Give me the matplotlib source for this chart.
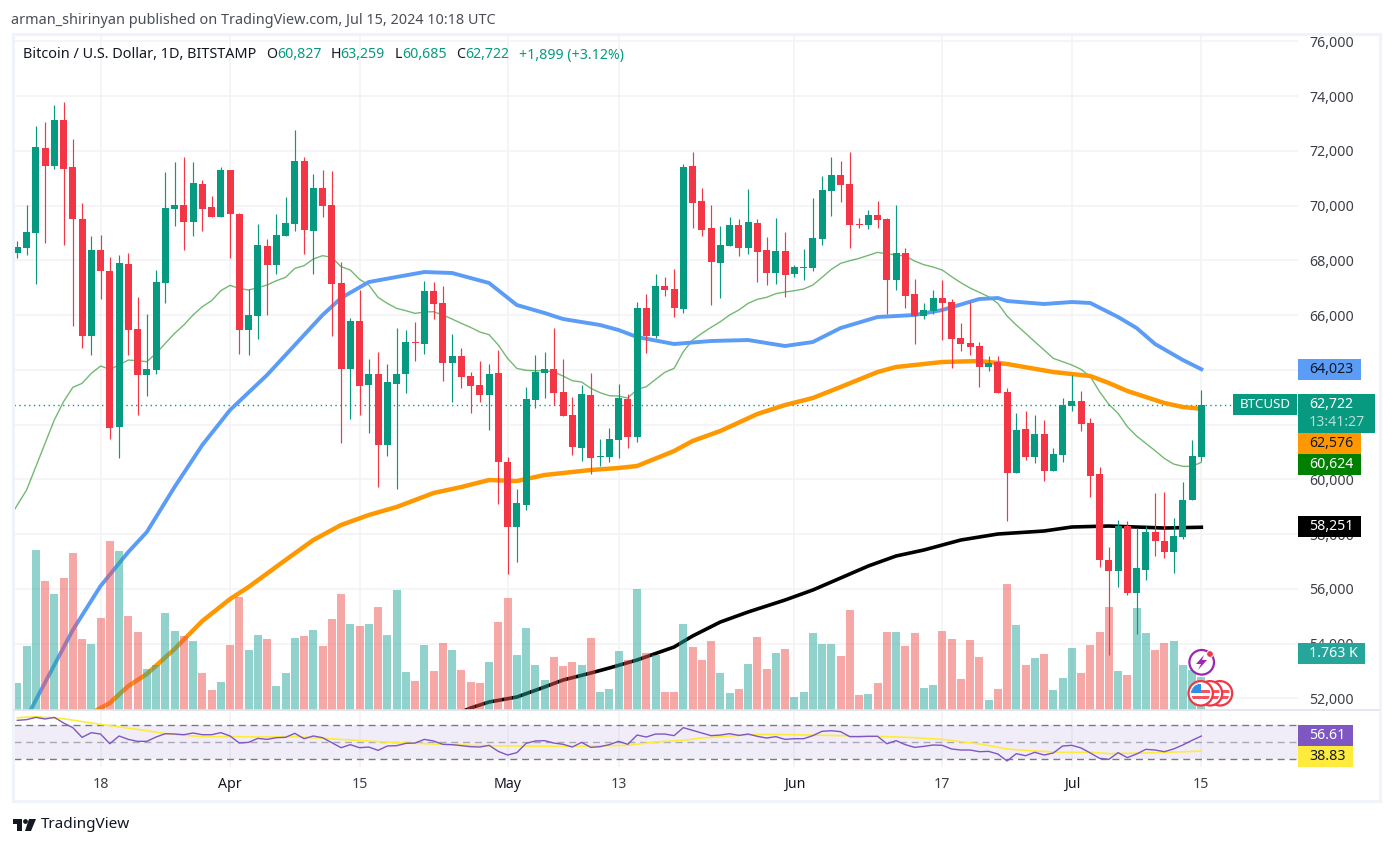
import matplotlib
matplotlib.use("Agg")
import matplotlib.pyplot as plt
from matplotlib.patches import Rectangle, Circle, Polygon

plt.rcParams["font.family"] = ["Noto Sans", "DejaVu Sans"]

# daily candles, 2024-03-09 to 2024-07-15, day number = position in the list
opens = [68266, 68448, 68996, 72101, 71443, 73123, 71407, 69508, 65235, 68376,
         67608, 61911, 67864, 65490, 63810, 63993, 67170, 69873, 70019, 69398,
         70786, 69946, 69581, 71297, 69690, 65454, 65965, 68522, 67828, 68887,
         69325, 71626, 69069, 70640, 70019, 67170, 64029, 65783, 63445, 63847,
         61254, 63482, 63847, 65015, 64942, 66878, 66440, 64248, 64504, 63774,
         63445, 63080, 63883, 60633, 58259, 59062, 62897, 63883, 64029, 63189,
         62349, 61144, 63080, 60815, 60815, 61436, 62934, 61546, 66257, 65235,
         67061, 66951, 66221, 71443, 70165, 69179, 67901, 68522, 69289, 68448,
         69362, 68376, 67535, 68339, 67499, 67718, 67718, 68777, 70530, 71115,
         70786, 69325, 69289, 69654, 69508, 67280, 68266, 66768, 65965, 66148,
         66622, 66476, 65162, 64979, 64869, 64102, 64285, 63189, 60230, 61838,
         60815, 61655, 60304, 60888, 62678, 62861, 62057, 60195, 57054, 56652,
         58295, 55848, 56689, 58076, 57748, 57346, 57894, 59245, 60827]
highs = [68704, 70019, 72904, 73050, 73671, 73781, 72429, 70092, 68887, 68923,
         68120, 68193, 68266, 66659, 66038, 67645, 71224, 71589, 71772, 71589,
         70932, 70348, 71407, 71297, 69727, 66951, 69325, 68777, 69690, 70311,
         72758, 71772, 71151, 71297, 71261, 67937, 65892, 66915, 64395, 64650,
         64212, 65527, 65454, 65746, 67243, 67207, 67061, 65308, 64796, 63920,
         64321, 64212, 64723, 60815, 59647, 63372, 64541, 64650, 65527, 64395,
         63007, 63445, 63883, 61473, 61874, 63482, 63116, 66476, 66768, 67499,
         67389, 67681, 71516, 71954, 70640, 70019, 69252, 69581, 69508, 70603,
         69508, 68850, 69544, 69033, 67828, 68412, 70275, 71078, 71772, 71626,
         71954, 69544, 69836, 70165, 69544, 70019, 68448, 67316, 66440, 66915,
         67280, 66586, 65710, 66476, 65015, 64504, 64504, 63335, 62422, 62495,
         62349, 62167, 61144, 62970, 63810, 63226, 62240, 60450, 57528, 58514,
         58478, 58222, 58295, 59500, 59537, 58588, 59902, 61436, 63259]
lows = [68095, 68193, 67134, 68631, 71334, 68558, 65600, 64796, 64541, 66586,
        61473, 60779, 64541, 62349, 63043, 63847, 66440, 69252, 68376, 68887,
        69069, 69581, 69581, 68083, 64577, 64541, 65125, 66001, 67499, 68887,
        69069, 68229, 67499, 69581, 65235, 61327, 62203, 62349, 61692, 59720,
        60852, 59647, 63153, 64321, 64577, 65855, 63591, 62824, 63335, 62422,
        62824, 61801, 59099, 56542, 56981, 58880, 62605, 62970, 62715, 62313,
        60888, 60669, 60195, 60487, 60633, 60779, 61144, 61363, 64613, 65162,
        66695, 65929, 66075, 69179, 68887, 66367, 66622, 68522, 68156, 68229,
        67207, 67097, 67134, 66659, 67389, 67280, 67608, 68558, 69617, 70129,
        68448, 69179, 69143, 69179, 66038, 66914, 66257, 64942, 65855, 66038,
        65088, 64065, 64687, 64541, 63372, 63956, 63153, 58478, 60230, 60706,
        60596, 59939, 60304, 60633, 62495, 61765, 59355, 56798, 53584, 56068,
        55775, 54351, 56323, 57200, 57127, 56579, 57821, 59245, 60685]
closes = [68485, 69033, 72137, 71443, 73123, 71334, 69508, 65235, 68376, 67608,
          61874, 67901, 65454, 63810, 64029, 67207, 69909, 70019, 69398, 70822,
          69873, 69581, 71297, 69690, 65454, 66001, 68558, 67828, 68923, 69362,
          71626, 69106, 70640, 69983, 67134, 64029, 65783, 63409, 63847, 61254,
          63555, 63847, 65015, 64979, 66878, 66403, 64248, 64504, 63737, 63409,
          63080, 63847, 60633, 58259, 59136, 62934, 63920, 64029, 63153, 62313,
          61181, 63116, 60779, 60852, 61473, 62970, 61546, 66257, 65235, 67061,
          66915, 66257, 71407, 70092, 69106, 67937, 68558, 69289, 68448, 69398,
          68303, 67535, 68339, 67462, 67754, 67754, 68814, 70567, 71115, 70749,
          69289, 69289, 69654, 69471, 67280, 68266, 66695, 65965, 66184, 66622,
          66440, 65125, 64942, 64833, 64102, 64248, 63153, 60230, 61801, 60815,
          61655, 60304, 60925, 62715, 62861, 62021, 60122, 57054, 56652, 58295,
          55848, 56762, 58076, 57748, 57346, 57930, 59245, 60852, 62722]
volumes = [1428, 3385, 8462, 6823, 6135, 6981, 8304, 3755, 3491, 4866,
           8938, 8410, 4972, 4125, 2168, 2380, 5130, 4178, 3914, 3649,
           1957, 1058, 1481, 3438, 5977, 3173, 3967, 3755, 1269, 1957,
           3808, 3914, 4231, 3385, 4813, 6135, 4549, 4443, 4549, 5448,
           3967, 6347, 2010, 1534, 3438, 2063, 3544, 3173, 2116, 1481,
           1428, 2539, 4654, 5924, 2909, 4337, 2380, 1587, 2803, 2327,
           2539, 2380, 3808, 952, 1111, 3121, 2645, 6400, 3015, 2909,
           952, 952, 4549, 3332, 2645, 3649, 1957, 899, 1111, 2433,
           3861, 2168, 3015, 3226, 688, 952, 4073, 3491, 3491, 2856,
           5289, 793, 846, 1428, 4125, 4125, 3385, 4073, 1164, 1322,
           4178, 3755, 1640, 3702, 2803, 529, 1111, 6664, 4496, 2380,
           2750, 2962, 1058, 1692, 3279, 1957, 3438, 4125, 5448, 2063,
           1851, 5395, 4073, 3173, 3544, 3649, 2380, 2116, 1763]

# thin average starts one day before the first candle
ma_thin_start = -1
ma_thin = [58516,
           59062, 59610, 60462, 61315, 62167, 62837, 63360, 63506, 63871, 64139,
           64017, 64176, 64358, 64334, 64297, 64602, 64967, 65332, 65636, 66002,
           66306, 66525, 66890, 67085, 66975, 66915, 67000, 67097, 67255, 67377,
           67706, 67803, 68047, 68169, 68108, 67767, 67645, 67304, 67097, 66647,
           66428, 66245, 66160, 66062, 66111, 66123, 66002, 65855, 65697, 65551,
           65381, 65283, 64906, 64419, 64054, 63981, 63969, 63969, 63920, 63774,
           63603, 63555, 63324, 63165, 63055, 63043, 62970, 63287, 63384, 63652,
           63908, 64054, 64662, 65088, 65332, 65551, 65758, 66002, 66184, 66428,
           66574, 66647, 66781, 66842, 66890, 66951, 67097, 67377, 67669, 67888,
           67986, 68071, 68181, 68290, 68242, 68193, 68156, 67974, 67840, 67755,
           67645, 67402, 67182, 66988, 66830, 66671, 66428, 65966, 65636, 65332,
           65028, 64723, 64419, 64297, 64176, 64017, 63749, 63201, 62739, 62410,
           61923, 61582, 61315, 61047, 60767, 60560, 60475, 60475, 60624]

blue_days = [1, 2, 6, 9, 12, 14, 17, 20, 23, 27, 30, 33, 35, 38, 41, 44, 47, 51, 54, 57,
             59, 63, 65, 67, 71, 75, 79, 83, 86, 89, 93, 97, 100, 104, 106, 107, 111,
             114, 116, 119, 121, 123, 126, 128]
blue_vals = [51285, 51940, 54498, 56105, 57347, 58077, 59721, 61255, 62533, 63811,
             64907, 66002, 66623, 67207, 67390, 67572, 67536, 67171, 66367, 66075,
             65856, 65637, 65454, 65199, 64943, 65053, 65089, 64870, 65016, 65527,
             65929, 66002, 66185, 66586, 66623, 66513, 66404, 66477, 66440, 65929,
             65527, 64943, 64359, 64023]
orange_days = [8, 9, 10, 12, 14, 17, 20, 23, 25, 29, 32, 35, 38, 41, 45, 48, 51, 54, 57, 62,
               65, 67, 71, 73, 76, 80, 83, 86, 89, 93, 95, 100, 104, 107, 112, 116, 118,
               120, 124, 126, 128]
orange_vals = [51467, 51650, 51832, 52453, 52891, 53804, 54827, 55630, 56069, 57055,
               57785, 58333, 58698, 58990, 59502, 59721, 59976, 59940, 60159, 60342,
               60415, 60488, 61035, 61401, 61766, 62387, 62715, 62971, 63373, 63920,
               64103, 64286, 64322, 64213, 63920, 63774, 63519, 63227, 62788, 62642, 62576]
black_days = [48, 49, 51, 54, 57, 59, 62, 64, 67, 71, 73, 76, 79, 83, 86, 89, 92, 95, 98,
              102, 106, 111, 114, 118, 124, 128]
black_vals = [51504, 51650, 51869, 52051, 52417, 52672, 52928, 53111, 53403, 53877,
              54279, 54790, 55156, 55594, 55959, 56397, 56836, 57201, 57420, 57785,
              58004, 58114, 58260, 58296, 58223, 58251]

rsi = [75.1, 75.9, 78.6, 76.7, 78.6, 72.0, 66.5, 55.1, 60.6, 59.0,
       47.6, 56.7, 52.7, 50.4, 50.4, 55.5, 59.4, 59.0, 58.2, 60.2,
       58.2, 58.2, 60.6, 56.7, 48.4, 49.2, 53.9, 52.7, 54.7, 55.1,
       59.8, 53.5, 56.7, 54.7, 48.8, 42.9, 46.5, 42.9, 43.7, 39.8,
       44.9, 45.3, 48.0, 48.4, 52.7, 50.8, 46.9, 46.5, 45.3, 44.1,
       43.7, 45.7, 38.6, 34.3, 37.1, 48.0, 50.8, 51.2, 48.4, 46.9,
       43.7, 49.2, 43.3, 44.1, 46.5, 50.4, 46.9, 57.8, 55.5, 59.0,
       59.0, 57.1, 66.5, 63.3, 60.2, 57.1, 57.8, 59.4, 57.4, 59.0,
       56.3, 54.3, 55.9, 52.7, 53.5, 53.5, 57.1, 62.2, 62.9, 61.8,
       55.9, 55.9, 56.3, 56.3, 47.6, 51.2, 46.5, 43.3, 44.5, 46.1,
       45.7, 41.4, 40.2, 40.2, 38.2, 38.6, 35.5, 27.3, 35.9, 33.5,
       37.5, 34.3, 36.7, 44.9, 45.7, 42.6, 36.7, 30.4, 29.2, 37.1,
       31.2, 35.5, 41.0, 40.2, 38.2, 41.4, 46.1, 51.6, 56.61]
rsi_ma_days = [0, 2, 5, 9, 14, 16, 20, 23, 27, 30, 36, 41, 45, 50, 54, 60, 66, 69, 72, 74, 78,
               80, 82, 89, 93, 97, 100, 104, 107, 110, 113, 116, 118, 122, 125, 128]
rsi_ma_vals = [78.2, 79.4, 77.0, 70.4, 62.9, 59.4, 55.9, 55.9, 55.5, 55.9, 52.0, 48.8,
               47.3, 45.3, 44.9, 44.5, 45.7, 49.6, 51.6, 54.3, 57.4, 58.6, 58.6, 57.1,
               56.3, 54.7, 52.7, 47.3, 41.4, 39.0, 37.5, 37.5, 35.9, 36.7, 37.8, 38.83]

price_ticks = list(range(52000, 78000, 2000))
# 62,000 and 64,000 sit completely behind the price tags
hidden_ticks = [62000, 64000]
date_ticks = [9, 23, 37, 53, 65, 84, 100, 114, 128]
date_labels = ["18", "Apr", "15", "May", "13", "Jun", "17", "Jul", "15"]
months = ["Apr", "May", "Jun", "Jul"]

GREEN = "#089981"
RED = "#f23645"
GRID = "#f2f3f7"
W, H = 1393, 846


def rect(left, top, right, bottom):
    return [left / W, 1 - bottom / H, (right - left) / W, (bottom - top) / H]


fig = plt.figure(figsize=(W / 100, H / 100), dpi=100, facecolor="white")
ax = fig.add_axes(rect(14, 35, 1298, 710))
ax_rsi = fig.add_axes(rect(14, 711, 1298, 767))
over = fig.add_axes([0, 0, 1, 1], zorder=10)
over.set_xlim(0, W)
over.set_ylim(H, 0)
over.axis("off")

days = list(range(len(closes)))
thin_days = list(range(ma_thin_start, len(closes)))
colors = [GREEN if c >= o else RED for o, c in zip(opens, closes)]

# main pane
ax.set_xlim(-0.357, 138.45)
ax.set_ylim(51577, 76228)
ax.grid(color=GRID, lw=1.1)
ax.set_axisbelow(True)
ax.axhline(closes[-1], color=GREEN, lw=1, ls=(0, (1, 2.5)), zorder=1)
ax.plot(thin_days, ma_thin, color="#008000", alpha=0.55, lw=1, zorder=2)
ax.plot(blue_days, blue_vals, color="#5b9cf6", lw=2.8, zorder=2)
ax.plot(orange_days, orange_vals, color="#ff9800", lw=3.2, zorder=2)
ax.plot(black_days, black_vals, color="black", lw=2.6, zorder=2)

# volume sits in the same pane, on its own scale
ax_vol = ax.twinx()
ax_vol.set_ylim(0, 35708)
ax_vol.axis("off")
ax_vol.set_zorder(ax.get_zorder() + 1)
ax_vol.bar(days, volumes, width=0.87,
           color=["#26a69a" if c == GREEN else "#ef5350" for c in colors], alpha=0.5)

ax_cand = ax.twinx()
ax_cand.set_ylim(ax.get_ylim())
ax_cand.axis("off")
ax_cand.set_zorder(ax.get_zorder() + 2)
ax_cand.vlines(days, lows, highs, colors=colors, lw=0.85)
bottoms = [min(o, c) for o, c in zip(opens, closes)]
heights = [max(abs(c - o), 40) for o, c in zip(opens, closes)]
ax_cand.bar(days, heights, bottom=bottoms, width=0.76, color=colors)

ax.set_yticks(price_ticks)
ax.set_yticklabels(["" if p in hidden_ticks else f"{p:,}" for p in price_ticks])
ax.yaxis.tick_right()
ax.tick_params(axis="y", length=0, pad=8, labelsize=10.2, labelcolor="#3c3f47")
ax.set_xticks(date_ticks)
ax.tick_params(axis="x", length=0, labelbottom=False)
for s in ax.spines.values():
    s.set_visible(False)

# rsi pane
ax_rsi.set_xlim(ax.get_xlim())
ax_rsi.set_ylim(20.2, 86.1)
ax_rsi.axhspan(30, 70, color="#7e57c2", alpha=0.1, lw=0)
ax_rsi.grid(axis="x", color=GRID, lw=1.1)
ax_rsi.set_axisbelow(True)
for level, col in [(70, "#787b86"), (50, "#a9a8b4"), (30, "#787b86")]:
    ax_rsi.axhline(level, color=col, lw=1, ls=(0, (5, 3.5)))
ax_rsi.plot(rsi_ma_days, rsi_ma_vals, color="#ffeb3b", lw=1.2)
ax_rsi.plot(days, rsi, color="#7e57c2", lw=1)
ax_rsi.set_yticks([])
ax_rsi.set_xticks(date_ticks)
ax_rsi.set_xticklabels(date_labels)
ax_rsi.tick_params(axis="x", length=0, pad=7, labelsize=10.2, labelcolor="#3c3f47")
for t in ax_rsi.get_xticklabels():
    if t.get_text() in months:
        t.set_color("#131722")
        t.set_fontweight(500)
for s in ax_rsi.spines.values():
    s.set_visible(False)

# frame and pane divider
over.add_patch(Rectangle((12.5, 34), 1367.5, 767, fill=False, ec="#f0f3fa", lw=2.2))
over.plot([14, 1379], [710.5, 710.5], color="#e0e3eb", lw=1.2)

# price scale tags
tags = [(359, 380, 1361, "#5b9cf6", "64,023", "#131722"),
        (433, 454, 1361, "#ff9800", "62,576", "#131722"),
        (454, 475, 1361, "#008000", "60,624", "white"),
        (516, 537, 1361, "black", "58,251", "white"),
        (643, 664, 1365, "#26a69a", "1.763 K", "white"),
        (725, 746, 1353, "#7e57c2", "56.61", "white"),
        (746, 767, 1353, "#ffeb3b", "38.83", "#131722")]
for top, bottom, right, bg, label, fg in tags:
    over.add_patch(Rectangle((1298, top), right - 1298, bottom - top, fc=bg, ec="none"))
    over.text(1309, (top + bottom) / 2, label, color=fg, fontsize=10.2, va="center", ha="left")
over.add_patch(Rectangle((1298, 394), 77, 39, fc=GREEN, ec="none"))
over.text(1309, 404.5, "62,722", color="white", fontsize=10.2, va="center")
over.text(1309, 422, "13:41:27", color="#b2dfd8", fontsize=10.2, va="center")
over.add_patch(Rectangle((1233, 394), 64, 21, fc=GREEN, ec="none"))
over.text(1265, 404.5, "BTCUSD", color="white", fontsize=9.6, va="center", ha="center")

# header
over.text(11, 20, "arman_shirinyan published on TradingView.com, Jul 15, 2024 10:18 UTC",
          color="#4a4e57", fontsize=10.4, va="center")
over.text(23, 58.5, "Bitcoin / U.S. Dollar, 1D, BITSTAMP", color="#131722", fontsize=10.4, va="baseline")
legend_parts = [(266, "O", "#131722"), (277.5, "60,827", GREEN), (331, "H", "#131722"),
                (340, "63,259", GREEN), (395, "L", "#131722"), (402, "60,685", GREEN),
                (456, "C", "#131722"), (465, "62,722", GREEN), (519, "+1,899 (+3.12%)", GREEN)]
for x, s, col in legend_parts:
    over.text(x, 58.5, s, color=col, fontsize=10.2, va="baseline")

# tradingview mark
over.add_patch(Polygon([(13, 819), (22, 819), (22, 831), (17, 831), (17, 824), (13, 824)],
                       fc="#131722", ec="none"))
over.add_patch(Circle((25.5, 821.5), 2.4, fc="#131722", ec="none"))
over.add_patch(Polygon([(29, 819), (36, 819), (31, 831), (25, 831)], fc="#131722", ec="none"))
over.text(41, 825, "TradingView", color="#131722", fontsize=11, va="center", fontweight="bold")

# event icons on the last bar
for cx in (1220, 1210, 1200.7):
    over.add_patch(Circle((cx, 693.3), 12.2, fc="white", ec="#f23645", lw=1.6))
    disc = Circle((cx, 693.3), 9.5, fc="white", ec="none")
    over.add_patch(disc)
    for offset in (-3.5, 2.5):
        stripe = Rectangle((cx - 10, 693.3 + offset), 20, 3, fc="#f7525f", ec="none")
        over.add_patch(stripe)
        stripe.set_clip_path(disc)
canton = Rectangle((1191, 684), 10, 9, fc="#2f8fe6", ec="none")
over.add_patch(canton)
canton.set_clip_path(Circle((1200.7, 693.3), 9.5, transform=over.transData))
over.add_patch(Circle((1201.7, 662.3), 12.3, fc="white", ec="#9c27b0", lw=1.6))
over.add_patch(Polygon([(1204, 655), (1196, 664), (1201, 664), (1198, 670), (1207, 660), (1202, 660)],
                       fc="#9c27b0", ec="none"))
over.add_patch(Circle((1210, 654), 3.3, fc="#f23645", ec="white", lw=0.6))

fig.savefig("out.png", dpi=100)
